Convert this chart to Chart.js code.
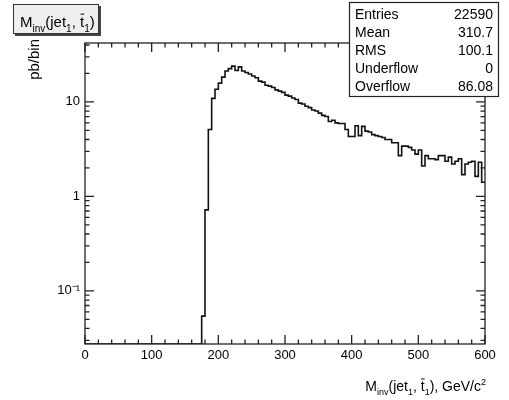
<!DOCTYPE html>
<html>
<head>
<meta charset="utf-8">
<title>Minv(jet1, tbar1)</title>
<script src="https://cdn.jsdelivr.net/npm/chart.js@4"></script>
<style>
  body { margin: 0; background: #fff; }
  #wrap { width: 509px; height: 400px; }
</style>
</head>
<body>
<div id="wrap"><canvas id="histo" width="509" height="400"></canvas></div>
<script>
// binning of the histogram (GeV/c^2)
const binWidth = 5;
const xMin = 0;
const xMax = 600;

// pb/bin, bins 0..170 are empty
const emptyBins = [
  0, 0, 0, 0, 0, 0, 0, 0, 0, 0,
  0, 0, 0, 0, 0, 0, 0, 0, 0, 0,
  0, 0, 0, 0, 0, 0, 0, 0, 0, 0,
  0, 0, 0, 0, 0
];
// pb/bin, bins 175..595
const filledBins = [
  0.054, 0.72, 5.1, 10.9, 13.6, 15.8, 18.3, 21.2, 22.5, 23.9,
  21.5, 23.5, 21.2, 20.5, 19.7, 18.8, 18.0, 16.6, 16.2, 15.0,
  14.7, 14.2, 13.4, 13.0, 12.6, 11.8, 11.5, 11.0, 10.6, 9.7,
  9.5, 9.0, 8.7, 8.2, 8.0, 7.6, 7.2, 7.0, 6.2, 6.4,
  6.0, 5.9, 5.9, 5.1, 4.3, 4.3, 5.6, 4.4, 5.5, 4.9,
  4.8, 4.5, 4.4, 4.3, 4.2, 4.0, 4.0, 3.7, 3.7, 2.7,
  3.4, 3.4, 3.3, 3.1, 2.8, 3.1, 2.1, 2.7, 2.5, 2.5,
  2.45, 2.7, 2.7, 2.35, 2.6, 2.2, 2.35, 2.5, 1.7, 2.2,
  2.3, 2.35, 1.63, 2.3, 1.41
];
const counts = emptyBins.concat(filledBins);

const xTickValues = [0, 100, 200, 300, 400, 500, 600];
const yTickValues = [0.1, 1, 10];
const yTickLabels = ['10\u207B\u00B9', '1', '10'];
const yMin = 0.0274;
const yMax = 42;

const statLabels = ['Entries', 'Mean', 'RMS', 'Underflow', 'Overflow'];
const statValues = ['22590', '310.7', '100.1', '0', '86.08'];

const FONT = '"Liberation Sans", Arial, Helvetica, sans-serif';

// M_inv(jet_1, tbar_1) pieces, reused for title and axis title
const massLabel = [
  { t: 'M' }, { t: 'inv', sub: true }, { t: '(jet' }, { t: '1', sub: true },
  { t: ', ' }, { t: 't', bar: true }, { t: '1', sub: true }, { t: ')' }
];

// step points: each bin starts at its low edge, last point closes the last bin.
// empty bins sit on the floor of the log axis, like ROOT draws them
const points = counts.map((c, i) => ({ x: xMin + i * binWidth, y: c > 0 ? c : yMin }));
points.push({ x: xMax, y: counts[counts.length - 1] });

// draws text with sub/superscripts and overbars
function drawRich(ctx, parts, x, y, size, align) {
  const small = Math.round(size * 0.64);
  const fontOf = p => ((p.sub || p.sup) ? small : size) + 'px ' + FONT;
  let total = 0;
  for (const p of parts) {
    ctx.font = fontOf(p);
    p.w = ctx.measureText(p.t).width;
    total += p.w;
  }
  let cx = align === 'right' ? x - total : x;
  ctx.textAlign = 'left';
  ctx.textBaseline = 'alphabetic';
  for (const p of parts) {
    ctx.font = fontOf(p);
    let dy = 0;
    if (p.sub) dy = size * 0.3;
    if (p.sup) dy = -size * 0.42;
    ctx.fillText(p.t, cx, y + dy);
    if (p.bar) {
      ctx.beginPath();
      ctx.lineWidth = 1;
      ctx.moveTo(cx + 0.5, y - size * 0.86);
      ctx.lineTo(cx + p.w, y - size * 0.86);
      ctx.stroke();
    }
    cx += p.w;
  }
}

const rootDecor = {
  id: 'rootDecor',
  afterDraw(chart) {
    const { ctx, chartArea: a, scales: { x, y } } = chart;
    ctx.save();

    // frame
    ctx.strokeStyle = '#222';
    ctx.lineWidth = 1.3;
    ctx.strokeRect(a.left, a.top, a.right - a.left, a.bottom - a.top);

    // ticks pointing inside, on all four sides
    ctx.beginPath();
    for (let v = xMin; v <= xMax; v += 20) {
      const px = x.getPixelForValue(v);
      const len = v % 100 === 0 ? 9 : 4.5;
      ctx.moveTo(px, a.bottom); ctx.lineTo(px, a.bottom - len);
      ctx.moveTo(px, a.top); ctx.lineTo(px, a.top + len);
    }
    for (let d = -2; d <= 1; d++) {
      for (let m = 1; m <= 9; m++) {
        const v = m * Math.pow(10, d);
        if (v < yMin || v > yMax) continue;
        const py = y.getPixelForValue(v);
        const len = m === 1 ? 9 : 4.5;
        ctx.moveTo(a.left, py); ctx.lineTo(a.left + len, py);
        ctx.moveTo(a.right, py); ctx.lineTo(a.right - len, py);
      }
    }
    ctx.stroke();

    // title box
    ctx.fillStyle = '#444';
    ctx.fillRect(15, 6, 86, 30);
    ctx.fillStyle = '#efefef';
    ctx.fillRect(13, 4, 86, 30);
    ctx.strokeStyle = '#333';
    ctx.lineWidth = 1;
    ctx.strokeRect(13.5, 4.5, 85, 29);
    ctx.fillStyle = '#000';
    ctx.strokeStyle = '#000';
    drawRich(ctx, massLabel, 20, 27, 15, 'left');

    // x axis title
    drawRich(ctx, massLabel.concat([{ t: ', GeV/c' }, { t: '2', sup: true }]),
      486, 391, 14, 'right');

    // y axis title
    ctx.save();
    ctx.translate(39, 39);
    ctx.rotate(-Math.PI / 2);
    ctx.font = '15px ' + FONT;
    ctx.textAlign = 'right';
    ctx.textBaseline = 'alphabetic';
    ctx.fillText('pb/bin', 0, 0);
    ctx.restore();

    // stats box
    const bx = 349, by = 2, bw = 149, bh = 94;
    ctx.fillStyle = '#fff';
    ctx.fillRect(bx, by, bw, bh);
    ctx.strokeStyle = '#222';
    ctx.lineWidth = 1.2;
    ctx.strokeRect(bx + 0.5, by + 0.5, bw, bh);
    ctx.fillStyle = '#000';
    ctx.font = '14px ' + FONT;
    ctx.textBaseline = 'middle';
    statLabels.forEach((lab, i) => {
      const ty = by + 13 + i * 18;
      ctx.textAlign = 'left';
      ctx.fillText(lab, bx + 6, ty);
      ctx.textAlign = 'right';
      ctx.fillText(statValues[i], bx + bw - 5, ty);
    });

    ctx.restore();
  }
};

const ctx = document.getElementById('histo').getContext('2d');
new Chart(ctx, {
  type: 'line',
  data: {
    datasets: [{
      label: 'Minv',
      data: points,
      stepped: 'before',
      borderColor: '#111',
      borderWidth: 1.6,
      pointRadius: 0,
      fill: false
    }]
  },
  options: {
    responsive: false,
    animation: false,
    layout: { padding: { left: 0, right: 24, top: 43, bottom: 0 } },
    plugins: { legend: { display: false }, tooltip: { enabled: false } },
    scales: {
      x: {
        type: 'linear',
        min: xMin,
        max: xMax,
        grid: { display: false, drawTicks: false },
        border: { display: false },
        afterBuildTicks: s => { s.ticks = xTickValues.map(v => ({ value: v })); },
        afterFit: s => { s.height = 56; },
        ticks: {
          padding: 4,
          color: '#000',
          maxRotation: 0,
          autoSkip: false,
          font: { family: FONT, size: 13 }
        }
      },
      y: {
        type: 'logarithmic',
        min: yMin,
        max: yMax,
        grid: { display: false, drawTicks: false },
        border: { display: false },
        afterBuildTicks: s => { s.ticks = yTickValues.map(v => ({ value: v })); },
        afterFit: s => { s.width = 85; },
        ticks: {
          padding: 5,
          color: '#000',
          autoSkip: false,
          font: { family: FONT, size: 13 },
          callback: (v, i) => yTickLabels[i]
        }
      }
    }
  },
  plugins: [rootDecor]
});
</script>
</body>
</html>
